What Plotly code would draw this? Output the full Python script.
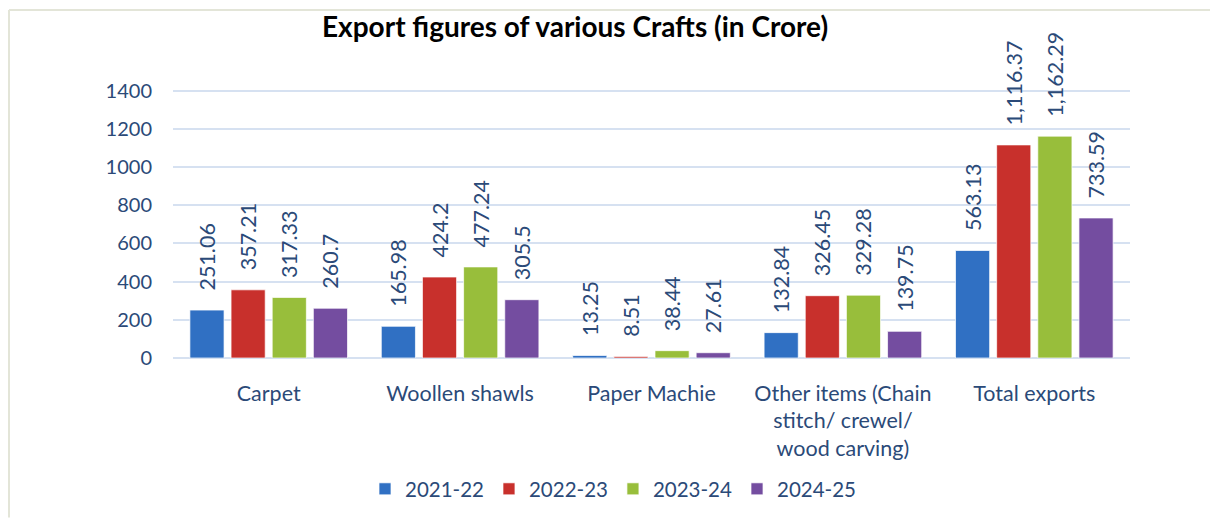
import plotly.graph_objects as go

# Export figures of various crafts, values in Rs crore
categories = [
    "Carpet",
    "Woollen shawls",
    "Paper Machie",
    "Other items (Chain<br>stitch/ crewel/<br>wood carving)",
    "Total exports",
]
fy_2021_22 = [251.06, 165.98, 13.25, 132.84, 563.13]
fy_2022_23 = [357.21, 424.2, 8.51, 326.45, 1116.37]
fy_2023_24 = [317.33, 477.24, 38.44, 329.28, 1162.29]
fy_2024_25 = [260.7, 305.5, 27.61, 139.75, 733.59]
y_ticks = [0, 200, 400, 600, 800, 1000, 1200, 1400]

series = [
    ("2021-22", fy_2021_22, "#3070c3"),
    ("2022-23", fy_2022_23, "#c8302c"),
    ("2023-24", fy_2023_24, "#98be3b"),
    ("2024-25", fy_2024_25, "#744da0"),
]

TEXT = "#2b4a78"
FONT = "Lato"
PAD = "\u00a0" * 3  # lifts the rotated value labels off the bar tops

# the page body has an 8px margin, so the figure is sized to end at the window edge
W, H = 1210, 511
L, R, T, B = 165, 88, 32, 160
PLOT_TOP, PLOT_BOTTOM = 8 + T, 8 + H - B
PLOT_LEFT, PLOT_RIGHT = 8 + L, 8 + W - R


def px_x(x):
    return (x - PLOT_LEFT) / (PLOT_RIGHT - PLOT_LEFT)


def px_y(y):
    return (PLOT_BOTTOM - y) / (PLOT_BOTTOM - PLOT_TOP)


fig = go.Figure()
for name, vals, color in series:
    fig.add_trace(
        go.Bar(
            x=categories,
            y=vals,
            name=name,
            marker=dict(color=color, line=dict(color="rgba(255,255,255,0.7)", width=1)),
            text=[f"{PAD}{v:,}" for v in vals],
            textposition="outside",
            textangle=-90,
            constraintext="none",
            cliponaxis=False,
            textfont=dict(family=FONT, size=21.5, color=TEXT),
        )
    )

fig.update_layout(
    width=W,
    height=H,
    margin=dict(l=L, r=R, t=T, b=B),
    paper_bgcolor="white",
    plot_bgcolor="white",
    barmode="group",
    bargap=0.14,
    bargroupgap=0.17,
    font=dict(family=FONT, size=20, color=TEXT),
    showlegend=True,
    legend=dict(
        orientation="h",
        x=px_x(613),
        xanchor="center",
        y=px_y(489),
        yanchor="middle",
        font=dict(family=FONT, size=20.5, color=TEXT),
        itemwidth=30,
    ),
    xaxis=dict(
        showgrid=False,
        showline=False,
        ticks="",
        ticklabelstandoff=20,
        tickfont=dict(family=FONT, size=21.5, color=TEXT),
    ),
    yaxis=dict(
        range=[0, 1666],
        tickvals=y_ticks,
        showgrid=True,
        gridcolor="#d6e1f1",
        gridwidth=2,
        zeroline=True,
        zerolinecolor="#d6e1f1",
        zerolinewidth=2,
        ticks="",
        ticklabelstandoff=20,
        tickfont=dict(family=FONT, size=20, color=TEXT),
    ),
    annotations=[
        dict(
            text="<b>Export figures of various Crafts (in Crore)</b>",
            xref="paper",
            yref="paper",
            x=px_x(575),
            y=px_y(26),
            xanchor="center",
            yanchor="middle",
            showarrow=False,
            font=dict(family=FONT, size=28, color="#000000"),
        )
    ],
    shapes=[
        # light frame of the chart box (top edge and left edge)
        dict(type="line", xref="paper", yref="paper", layer="below",
             x0=px_x(9), x1=px_x(1218), y0=px_y(10), y1=px_y(10),
             line=dict(color="#e3e5d8", width=2)),
        dict(type="line", xref="paper", yref="paper", layer="below",
             x0=px_x(9), x1=px_x(9), y0=px_y(10), y1=px_y(519),
             line=dict(color="#e3e5d8", width=2)),
    ],
)

fig.write_html("out.html")
